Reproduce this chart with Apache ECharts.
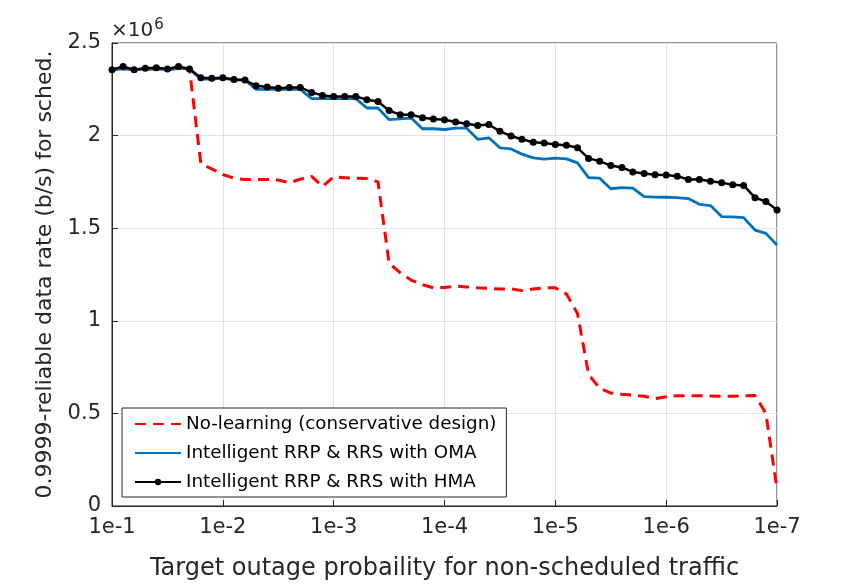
<!DOCTYPE html>
<html>
<head>
<meta charset="utf-8">
<title>Reliable data rate vs target outage</title>
<style>
  html, body { margin: 0; padding: 0; background: #fff; }
  #chart { width: 859px; height: 586px; }
</style>
</head>
<body>
<div id="chart"></div>
<script src="https://cdn.jsdelivr.net/npm/echarts@6/dist/echarts.min.js"></script>
<script>
// target outage probability (10 samples per decade, 1e-1 .. 1e-7)
var outage = [
  1.00e-1, 7.94e-2, 6.31e-2, 5.01e-2, 3.98e-2, 3.16e-2, 2.51e-2, 2.00e-2, 1.58e-2, 1.26e-2,
  1.00e-2, 7.94e-3, 6.31e-3, 5.01e-3, 3.98e-3, 3.16e-3, 2.51e-3, 2.00e-3, 1.58e-3, 1.26e-3,
  1.00e-3, 7.94e-4, 6.31e-4, 5.01e-4, 3.98e-4, 3.16e-4, 2.51e-4, 2.00e-4, 1.58e-4, 1.26e-4,
  1.00e-4, 7.94e-5, 6.31e-5, 5.01e-5, 3.98e-5, 3.16e-5, 2.51e-5, 2.00e-5, 1.58e-5, 1.26e-5,
  1.00e-5, 7.94e-6, 6.31e-6, 5.01e-6, 3.98e-6, 3.16e-6, 2.51e-6, 2.00e-6, 1.58e-6, 1.26e-6,
  1.00e-6, 7.94e-7, 6.31e-7, 5.01e-7, 3.98e-7, 3.16e-7, 2.51e-7, 2.00e-7, 1.58e-7, 1.26e-7,
  1.00e-7
];

// rates in units of 1e6 b/s
var noLearning = [
  2.355, 2.37, 2.355, 2.36, 2.36, 2.355, 2.365, 2.36, 1.85, 1.82,
  1.79, 1.77, 1.763, 1.763, 1.763, 1.76, 1.745, 1.765, 1.78, 1.725,
  1.778, 1.772, 1.77, 1.768, 1.75, 1.31, 1.26, 1.22, 1.195, 1.178,
  1.18, 1.187, 1.183, 1.178, 1.175, 1.172, 1.172, 1.163, 1.172, 1.178,
  1.178, 1.145, 1.04, 0.71, 0.635, 0.61, 0.603, 0.598, 0.593, 0.58,
  0.59, 0.595, 0.595, 0.595, 0.594, 0.593, 0.593, 0.595, 0.597, 0.5,
  0.09
];

var oma = [
  2.355, 2.36, 2.355, 2.36, 2.36, 2.355, 2.365, 2.36, 2.305, 2.305,
  2.31, 2.30, 2.30, 2.25, 2.25, 2.25, 2.25, 2.25, 2.20, 2.20,
  2.20, 2.20, 2.20, 2.149, 2.149, 2.086, 2.09, 2.095, 2.037, 2.037,
  2.033, 2.04, 2.04, 1.98, 1.988, 1.934, 1.928, 1.9, 1.88, 1.873,
  1.878, 1.874, 1.853, 1.773, 1.77, 1.713, 1.719, 1.716, 1.67, 1.668,
  1.667, 1.665, 1.66, 1.629, 1.622, 1.563, 1.561, 1.557, 1.49, 1.472,
  1.409
];

var hma = [
  2.355, 2.373, 2.355, 2.364, 2.367, 2.36, 2.373, 2.36, 2.313, 2.31,
  2.313, 2.303, 2.30, 2.269, 2.262, 2.256, 2.26, 2.26, 2.233, 2.217,
  2.211, 2.211, 2.211, 2.194, 2.184, 2.135, 2.113, 2.113, 2.097, 2.09,
  2.086, 2.073, 2.064, 2.054, 2.06, 2.023, 1.998, 1.98, 1.964, 1.96,
  1.952, 1.948, 1.934, 1.877, 1.862, 1.838, 1.828, 1.804, 1.795, 1.788,
  1.787, 1.781, 1.763, 1.763, 1.754, 1.746, 1.734, 1.731, 1.665, 1.644,
  1.598
];

var seriesNames = [
  'No-learning (conservative design)',
  'Intelligent RRP & RRS with OMA',
  'Intelligent RRP & RRS with HMA'
];

function pairs(ys) {
  return outage.map(function (x, i) { return [x, ys[i]]; });
}

var font = 'DejaVu Sans, Liberation Sans, sans-serif';
var ink = '#262626';

var chart = echarts.init(document.getElementById('chart'));
chart.setOption({
  animation: false,
  backgroundColor: '#fff',
  textStyle: { fontFamily: font },
  grid: {
    left: 112, right: 82, top: 43, bottom: 78,
    show: true, borderColor: ink, borderWidth: 1
  },
  xAxis: {
    type: 'log',
    logBase: 10,
    min: 1e-7,
    max: 1e-1,
    inverse: true,
    name: 'Target outage probaility for non-scheduled traffic',
    nameLocation: 'middle',
    nameGap: 51,
    nameTextStyle: { fontSize: 24, color: ink, fontFamily: font },
    axisLine: { lineStyle: { color: ink } },
    axisTick: { inside: true, length: 6, lineStyle: { color: ink } },
    minorTick: { show: false },
    axisLabel: {
      fontSize: 21, color: ink, margin: 11, fontFamily: font,
      formatter: function (v) { return '1e' + Math.round(Math.log10(v)); }
    },
    splitLine: { show: true, lineStyle: { color: '#e3e3e3' } }
  },
  yAxis: {
    type: 'value',
    min: 0,
    max: 2.5,
    interval: 0.5,
    name: '0.9999-reliable data rate (b/s) for sched.',
    nameLocation: 'middle',
    nameGap: 55,
    nameTextStyle: { fontSize: 22, color: ink, fontFamily: font },
    axisLine: { show: true, lineStyle: { color: ink } },
    axisTick: { show: true, inside: true, length: 6, lineStyle: { color: ink } },
    axisLabel: { fontSize: 21, color: ink, margin: 11, fontFamily: font },
    splitLine: { show: true, lineStyle: { color: '#e3e3e3' } }
  },
  legend: {
    orient: 'vertical',
    left: 122,
    top: 408,
    padding: [7, 10, 6, 12],
    itemGap: 11,
    itemWidth: 46,
    itemHeight: 8,
    borderColor: ink,
    borderWidth: 1,
    backgroundColor: '#fff',
    textStyle: { fontSize: 18.3, color: '#000', fontFamily: font },
    data: [
      { name: seriesNames[0], itemStyle: { opacity: 0 } },
      { name: seriesNames[1], itemStyle: { opacity: 0 } },
      { name: seriesNames[2] }
    ]
  },
  graphic: [{
    type: 'text',
    left: 111,
    top: 18,
    style: {
      text: '×10{s|6}',
      fontSize: 20,
      fontFamily: font,
      fill: ink,
      rich: { s: { fontSize: 15, fontFamily: font, verticalAlign: 'top', padding: [0, 0, 10, 1] } }
    }
  }],
  series: [{
    name: seriesNames[0],
    type: 'line',
    data: pairs(noLearning),
    symbol: 'none',
    lineStyle: { color: '#ff0000', width: 3, type: [11, 7] },
    itemStyle: { color: '#ff0000' },
    z: 2
  }, {
    name: seriesNames[1],
    type: 'line',
    data: pairs(oma),
    symbol: 'none',
    lineStyle: { color: '#0072bd', width: 2.8 },
    itemStyle: { color: '#0072bd' },
    z: 3
  }, {
    name: seriesNames[2],
    type: 'line',
    data: pairs(hma),
    symbol: 'circle',
    symbolSize: 7,
    lineStyle: { color: '#000', width: 2.5 },
    itemStyle: { color: '#000' },
    z: 4
  }]
});
</script>
</body>
</html>
